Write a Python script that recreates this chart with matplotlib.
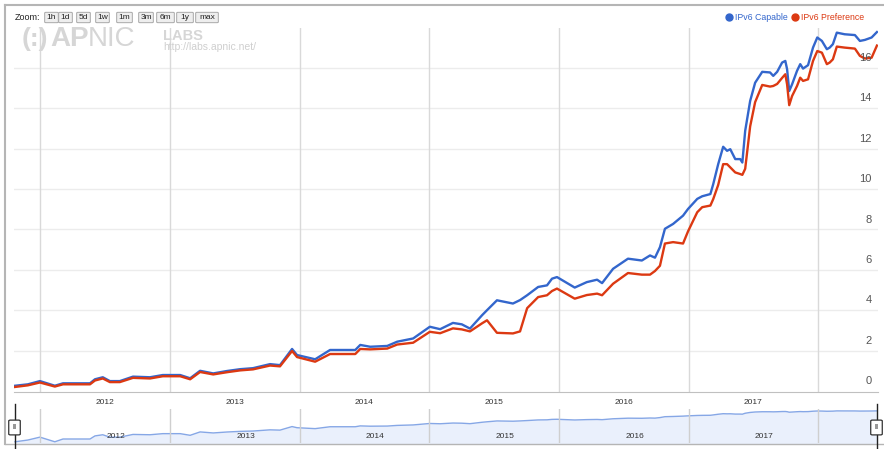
import numpy as np
import pandas as pd
import matplotlib
matplotlib.use("Agg")
import matplotlib.pyplot as plt
from matplotlib.patches import FancyBboxPatch, Rectangle
from matplotlib.lines import Line2D

plt.rcParams['font.family'] = ['Liberation Sans', 'DejaVu Sans']

# data (percent of users)
dates = [
    "2011-10-23", "2011-11-28", "2012-01-01", "2012-02-12", "2012-03-06", "2012-05-21",
    "2012-06-04", "2012-06-26", "2012-07-16", "2012-08-13", "2012-09-19", "2012-11-06",
    "2012-12-12", "2013-01-30", "2013-02-27", "2013-03-27", "2013-05-03", "2013-06-11",
    "2013-07-18", "2013-08-23", "2013-10-10", "2013-11-07", "2013-12-11", "2013-12-25",
    "2014-02-14", "2014-03-28", "2014-06-07", "2014-06-21", "2014-07-19", "2014-09-05",
    "2014-10-03", "2014-11-17", "2015-01-03", "2015-02-01", "2015-03-09", "2015-04-03",
    "2015-04-26", "2015-05-30", "2015-06-13", "2015-07-11", "2015-08-25", "2015-09-14",
    "2015-10-04", "2015-11-04", "2015-11-29", "2015-12-13", "2015-12-27", "2016-02-15",
    "2016-03-20", "2016-04-18", "2016-05-02", "2016-06-02", "2016-07-14", "2016-08-22",
    "2016-09-14", "2016-09-28", "2016-10-12", "2016-10-26", "2016-11-18", "2016-12-16",
    "2016-12-30", "2017-01-25", "2017-02-08", "2017-03-03", "2017-03-11", "2017-03-25",
    "2017-04-08", "2017-04-19", "2017-04-28", "2017-05-12", "2017-05-26", "2017-06-01",
    "2017-06-09", "2017-06-23", "2017-07-07", "2017-07-27", "2017-08-18", "2017-08-27",
    "2017-09-07", "2017-09-21", "2017-09-30", "2017-10-05", "2017-10-11", "2017-10-19",
    "2017-11-02", "2017-11-11", "2017-11-19", "2017-12-03", "2017-12-17", "2017-12-29",
    "2018-01-11", "2018-01-25", "2018-02-02", "2018-02-11", "2018-02-22", "2018-03-16",
    "2018-04-14", "2018-04-28", "2018-05-12", "2018-05-31", "2018-06-15",
]
capable = [
    0.26, 0.33, 0.49, 0.26, 0.38, 0.38,
    0.58, 0.68, 0.49, 0.49, 0.71, 0.68,
    0.79, 0.79, 0.63, 1.00, 0.87, 0.99,
    1.08, 1.13, 1.33, 1.28, 2.08, 1.78,
    1.57, 2.03, 2.03, 2.28, 2.19, 2.23,
    2.44, 2.60, 3.18, 3.06, 3.37, 3.30,
    3.09, 3.75, 4.00, 4.49, 4.33, 4.50,
    4.74, 5.15, 5.23, 5.56, 5.64, 5.12,
    5.39, 5.51, 5.34, 6.05, 6.55, 6.46,
    6.71, 6.60, 7.12, 8.03, 8.27, 8.68,
    9.01, 9.51, 9.64, 9.75, 10.24, 11.23,
    12.09, 11.89, 11.97, 11.48, 11.48, 11.31,
    12.88, 14.36, 15.26, 15.80, 15.77, 15.60,
    15.80, 16.26, 16.34, 15.93, 14.85, 15.18,
    15.85, 16.18, 15.96, 16.13, 17.00, 17.50,
    17.33, 16.92, 17.00, 17.17, 17.74, 17.66,
    17.62, 17.33, 17.38, 17.50, 17.77,
]
preference = [
    0.20, 0.28, 0.42, 0.22, 0.33, 0.33,
    0.52, 0.62, 0.44, 0.44, 0.65, 0.62,
    0.73, 0.73, 0.58, 0.94, 0.82, 0.93,
    1.02, 1.07, 1.26, 1.22, 1.98, 1.68,
    1.45, 1.83, 1.83, 2.08, 2.06, 2.10,
    2.30, 2.39, 2.93, 2.86, 3.10, 3.05,
    2.95, 3.35, 3.50, 2.88, 2.85, 2.95,
    4.10, 4.65, 4.74, 4.95, 5.07, 4.57,
    4.75, 4.82, 4.74, 5.31, 5.84, 5.76,
    5.76, 5.94, 6.20, 7.30, 7.37, 7.30,
    7.90, 8.85, 9.10, 9.18, 9.50, 10.20,
    11.23, 11.23, 11.07, 10.82, 10.74, 10.70,
    11.00, 13.10, 14.30, 15.15, 15.07, 15.10,
    15.20, 15.50, 15.68, 15.18, 14.15, 14.60,
    15.10, 15.51, 15.35, 15.43, 16.34, 16.83,
    16.75, 16.18, 16.26, 16.42, 17.05, 17.00,
    16.95, 16.59, 16.46, 16.50, 17.10,
]
years = [2012, 2013, 2014, 2015, 2016, 2017, 2018]
y_ticks = [0, 2, 4, 6, 8, 10, 12, 14, 16]
zoom_buttons = ["1h", "1d", "5d", "1w", "1m", "3m", "6m", "1y", "max"]

BLUE = "#3366cc"
RED = "#dc3912"
W, H = 884, 449

d = pd.to_datetime(dates)
x0 = d[0] - pd.Timedelta(days=3)
x1 = d[-1] + pd.Timedelta(days=3)


def fx(px):
    return px / W


def fy(py):
    return 1 - py / H


fig = plt.figure(figsize=(W / 100, H / 100), dpi=100)

# outer frame
fig.add_artist(Line2D([fx(5), fx(884)], [fy(5), fy(5)], color="#b5b5b5", lw=1.5))
fig.add_artist(Line2D([fx(5), fx(5)], [fy(5), fy(444)], color="#b5b5b5", lw=1.5))
fig.add_artist(Line2D([fx(5), fx(884)], [fy(444), fy(444)], color="#b5b5b5", lw=1.0))

# main chart
ax = fig.add_axes([fx(14), fy(392), fx(878) - fx(14), (392 - 28) / H])
for s in ["top", "left", "right"]:
    ax.spines[s].set_visible(False)
ax.spines["bottom"].set_color("#c0c0c0")
ax.set_xlim(x0, x1)
ax.set_ylim(-0.05, 17.97)
ax.set_xticks([])
ax.set_yticks([])
for v in y_ticks[1:]:
    ax.axhline(v, color="#ececec", lw=1, zorder=0)
for yr in years:
    ax.axvline(pd.Timestamp(f"{yr}-01-01"), color="#d9d9d9", lw=1, zorder=0)
for yr in years[:-1]:
    ax.text(pd.Timestamp(f"{yr}-07-02"), -0.028, str(yr), transform=ax.get_xaxis_transform(),
            ha="center", va="center", fontsize=6, color="#333333")
for v in y_ticks:
    ax.annotate(str(v), xy=(0.993, v), xycoords=("axes fraction", "data"),
                xytext=(0, 7), textcoords="offset points", ha="right", va="center",
                fontsize=8, color="#555555", zorder=5)

ax.plot(d, capable, color=BLUE, lw=1.7, zorder=3)
ax.plot(d, preference, color=RED, lw=1.7, zorder=3)

# watermark
fig.text(fx(22), fy(46), "(:)", fontsize=19, color="#d6d6d6", fontweight="bold")
fig.text(fx(50), fy(46), "AP", fontsize=20, color="#d6d6d6", fontweight="bold")
fig.text(fx(88), fy(46), "NIC", fontsize=20, color="#d6d6d6")
fig.text(fx(163), fy(40), "LABS", fontsize=10.5, color="#d6d6d6", fontweight="bold")
fig.text(fx(163), fy(50), "http://labs.apnic.net/", fontsize=7.5, color="#cfcfcf")

# zoom buttons
fig.text(fx(15), fy(17.5), "Zoom:", fontsize=6.5, color="#222222", va="center")
btn_x = [46, 60, 78, 97, 118, 140, 158, 178, 197]
btn_w = [11, 11, 11, 11, 13, 12, 15, 14, 20]
for label, bx, bw in zip(zoom_buttons, btn_x, btn_w):
    fig.add_artist(FancyBboxPatch((fx(bx), fy(22)), fx(bw), 9 / H,
                                  boxstyle="round,pad=0.0015", fc="#eeeeee", ec="#a8a8a8",
                                  lw=0.7, transform=fig.transFigure))
    fig.text(fx(bx + bw / 2), fy(17.5), label, fontsize=6, color="#222222",
             ha="center", va="center")

# legend
fig.add_artist(Line2D([fx(729)], [fy(17)], marker="o", ms=5, color=BLUE, lw=0))
fig.text(fx(735), fy(17), "IPv6 Capable", fontsize=6.3, color=BLUE, va="center")
fig.add_artist(Line2D([fx(795)], [fy(17)], marker="o", ms=5, color=RED, lw=0))
fig.text(fx(801), fy(17), "IPv6 Preference", fontsize=6.3, color=RED, va="center")

# navigator
nav = fig.add_axes([fx(14), fy(443), fx(878) - fx(14), (443 - 409) / H])
for s in nav.spines.values():
    s.set_visible(False)
nav.set_yscale("log")
nav.set_xlim(x0, x1)
nav.set_ylim(0.22, 23)
nav.set_xticks([])
nav.set_yticks([])
nav.minorticks_off()
nav.fill_between(d, capable, 0.01, color="#eaf0fc", lw=0)
nav.plot(d, capable, color="#86a7e6", lw=1)
for yr in years:
    nav.axvline(pd.Timestamp(f"{yr}-01-01"), color="#cfcfcf", lw=1)
for yr in years[:-1]:
    nav.text(pd.Timestamp(f"{yr}-08-02"), 0.2, str(yr), transform=nav.get_xaxis_transform(),
             ha="center", va="center", fontsize=6, color="#333333")

# navigator handles
for hx in [14.5, 876.5]:
    fig.add_artist(Line2D([fx(hx), fx(hx)], [fy(404), fy(449)], color="#222222", lw=1))
    fig.add_artist(FancyBboxPatch((fx(hx - 4), fy(434)), fx(8), 13 / H,
                                  boxstyle="round,pad=0.002", fc="white", ec="#333333",
                                  lw=0.9, transform=fig.transFigure, zorder=4))
    fig.text(fx(hx), fy(427.5), "II", fontsize=5, color="#333333", ha="center",
             va="center", fontweight="bold", zorder=5)

fig.savefig("out.png", dpi=100, facecolor="white")
